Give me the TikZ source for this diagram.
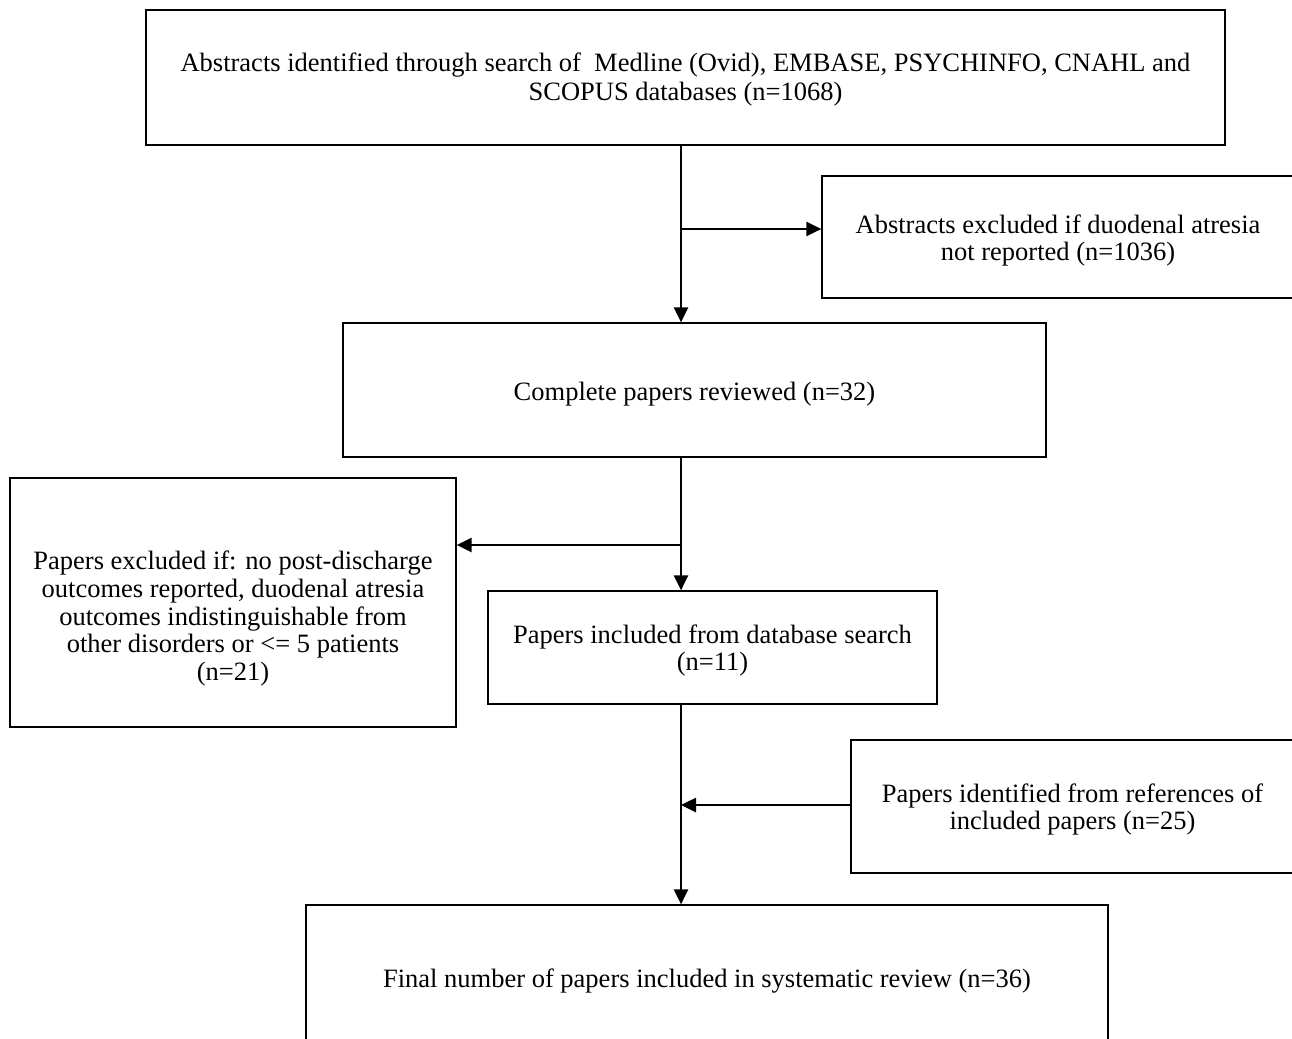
\documentclass[tikz,border=0pt]{standalone}
\usepackage{fontspec}
\setmainfont{Liberation Serif}
\usetikzlibrary{arrows.meta}
\begin{document}
\begin{tikzpicture}[x=1pt,y=-1pt,
  box/.style={draw=black,line width=1.2pt,inner sep=0pt},
  txt/.style={align=center,inner sep=0pt,font=\fontsize{26.5}{27.7}\selectfont},
  conn/.style={line width=2.6pt,-{Triangle[length=15pt,width=14pt]}}]
\useasboundingbox (0,0) rectangle (1292,1038);
\node[box,minimum width=1079pt,minimum height=135pt] (b1) at (685.5,77.5) {};
\node[txt,font=\fontsize{26.5}{29.5}\selectfont] (t1) at ([yshift=-2pt]b1.center)
  {Abstracts identified through search of\ \ Medline (Ovid), EMBASE, PSYCHINFO, CNAHL and\\SCOPUS databases (n=1068)};
\node[box,minimum width=472pt,minimum height=122pt] (b2) at (1058,237) {};
\node[txt] (t2) at ([yshift=-3.5pt]b2.center)
  {Abstracts excluded if duodenal atresia\\not reported (n=1036)};
\node[box,minimum width=703pt,minimum height=134pt] (b3) at (694.5,390) {};
\node[txt] (t3) at ([yshift=-4pt]b3.center)
  {Complete papers reviewed (n=32)};
\node[box,minimum width=446pt,minimum height=249pt] (b4) at (233,602.5) {};
\node[txt] (t4) at ([yshift=-16pt]b4.center)
  {Papers excluded if: no post-discharge\\outcomes reported, duodenal atresia\\outcomes indistinguishable from\\other disorders or <= 5 patients\\(n=21)};
\node[box,minimum width=449pt,minimum height=113pt] (b5) at (712.5,647.5) {};
\node[txt] (t5) at ([yshift=-3pt]b5.center)
  {Papers included from database search\\(n=11)};
\node[box,minimum width=443pt,minimum height=133pt] (b6) at (1072.5,806.5) {};
\node[txt] (t6) at ([yshift=-3pt]b6.center)
  {Papers identified from references of\\included papers (n=25)};
\node[box,minimum width=802pt,minimum height=146pt] (b7) at (707,978) {};
\node[txt] (t7) at ([yshift=-3pt]b7.center)
  {Final number of papers included in systematic review (n=36)};
\coordinate (j1) at (681,229);
\coordinate (j2) at (681,545);
\coordinate (j3) at (681,805);
\draw[conn] (j1 |- b1.south) -- (j1 |- b3.north);
\draw[conn] (j1) -- (j1 -| b2.west);
\draw[conn] (j2 |- b3.south) -- (j2 |- b5.north);
\draw[conn] (j2) -- (j2 -| b4.east);
\draw[conn] (j3 |- b5.south) -- (j3 |- b7.north);
\draw[conn] (b6.west |- j3) -- (j3);
\end{tikzpicture}
\end{document}
